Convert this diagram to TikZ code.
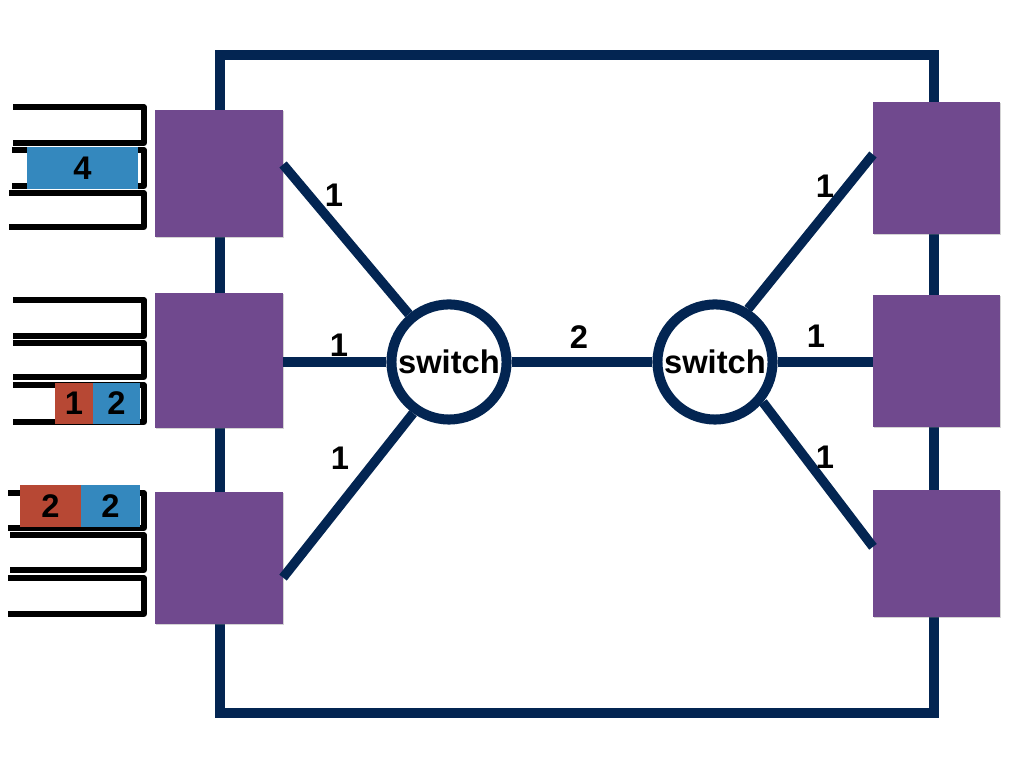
\documentclass[tikz,border=0pt]{standalone}
\usepackage{fontspec}
\setmainfont{Liberation Sans}
\usetikzlibrary{shadows}

\definecolor{navy}{RGB}{3,37,82}
\definecolor{plum}{RGB}{112,73,142}
\definecolor{pktred}{RGB}{183,72,52}
\definecolor{pktblue}{RGB}{52,136,190}

\begin{document}
\begin{tikzpicture}[
    x=0.01cm, y=-0.01cm,
    port/.style={rectangle, fill=plum, inner sep=0pt, outer sep=0pt, minimum width=1.28cm, minimum height=1.32cm,
        drop shadow={shadow xshift=0.4pt, shadow yshift=-0.4pt, opacity=0.35}},
    switchnode/.style={circle, draw=navy, line width=2.85pt, fill=white, minimum size=1.15cm, inner sep=0pt,
        font=\fontsize{9.3}{10}\selectfont\bfseries},
    link/.style={draw=navy, line width=2.7pt},
    slot/.style={draw=black, line width=1.45pt, line join=round},
    pkt/.style={rectangle, inner sep=0pt, minimum height=0.42cm, font=\fontsize{9.3}{10}\selectfont\bfseries},
    num/.style={font=\fontsize{9.3}{10}\selectfont\bfseries}
]
\useasboundingbox (0,0) rectangle (1024,768);

% Outer ring
\coordinate (ringnw) at (220,55);
\coordinate (ringse) at (934,713);
\draw[link, line width=2.85pt] (ringnw) rectangle (ringse);

% Ports
\node[port, minimum height=1.27cm] (l1) at (219,173.5) {};
\node[port, minimum height=1.35cm] (l2) at (219,360.5) {};
\node[port] (l3) at (219,558) {};
\node[port, minimum width=1.27cm] (r1) at (936.5,168) {};
\node[port, minimum width=1.27cm] (r2) at (936.5,361) {};
\node[port, minimum width=1.27cm, minimum height=1.27cm] (r3) at (936.5,553.5) {};

% Switches
\node[switchnode] (sw1) at (449,362) {switch};
\node[switchnode] (sw2) at (715,362) {switch};

% Links
\draw[link] (l1.8) -- (sw1.130);
\draw[link] (l2.east |- sw1.west) -- (sw1.west);
\draw[link] (l3.-17) -- (sw1.235);
\draw[link] (sw1.east) -- (sw2.west);
\draw[link] (sw2.58) -- (r1.168);
\draw[link] (sw2.east) -- (sw2.east -| r2.west);
\draw[link] (sw2.-40) -- (r3.174);

% Link capacities
\node[num] (cl1) at (334,195) {1};
\node[num] (cl2) at (339,345) {1};
\node[num] (cl3) at (340,458) {1};
\node[num] (cmid) at (579,337) {2};
\node[num] (cr1) at (825,186) {1};
\node[num] (cr2) at (816,336) {1};
\node[num] (cr3) at (825,457) {1};

% Input queues
\foreach \t/\b/\l in {107/143/13, 150/186/12, 193/227/9,
                      300/336/13, 343/377/13, 385/422/13,
                      493/528/8, 535/570/10, 578/614/8}
    \draw[slot] (\l,\t) -- (144,\t) -- (144,\b) -- (\l,\b);

% Packets
\node[pkt, fill=pktblue, minimum width=1.11cm] (p4) at (82.5,168) {4};
\node[pkt, fill=pktred, minimum width=0.38cm, minimum height=0.41cm] (pa1) at (74,403.5) {1};
\node[pkt, fill=pktblue, minimum width=0.47cm, minimum height=0.41cm] (pa2) at (116.5,403.5) {2};
\node[pkt, fill=pktred, minimum width=0.61cm] (pb1) at (50.5,506) {2};
\node[pkt, fill=pktblue, minimum width=0.59cm] (pb2) at (110.5,506) {2};

\end{tikzpicture}
\end{document}
